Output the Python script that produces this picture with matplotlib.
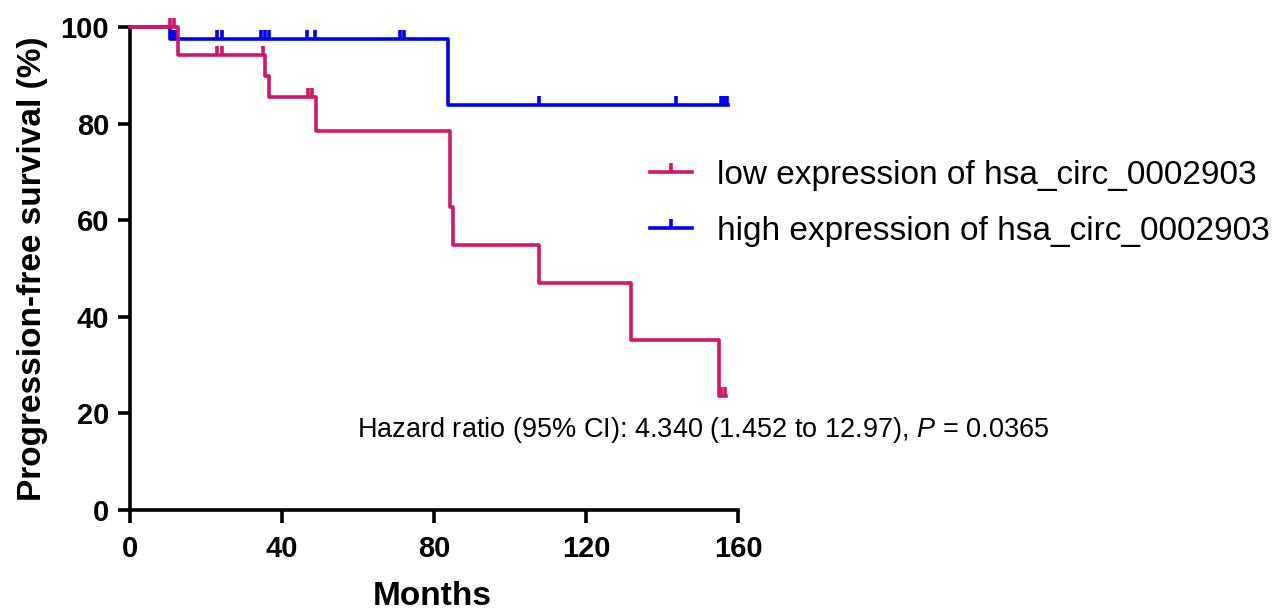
import matplotlib
matplotlib.use("Agg")
import matplotlib.pyplot as plt
from matplotlib.path import Path
from matplotlib.lines import Line2D
import numpy as np

plt.rcParams['font.family'] = ['Liberation Sans', 'DejaVu Sans']
plt.rcParams['mathtext.fontset'] = 'custom'
plt.rcParams['mathtext.rm'] = 'Liberation Sans'
plt.rcParams['mathtext.it'] = 'Liberation Sans:italic'

# step points (time, survival %)
low_t = [0, 12.6, 35.5, 36.7, 48.9, 84.2, 84.9, 107.6, 131.8, 155.0, 156.8]
low_s = [100, 94.1, 89.9, 85.5, 78.4, 62.8, 54.9, 47.1, 35.3, 23.7, 23.7]
low_cens = [10.5, 11.5, 22.9, 24.3, 34.9, 46.8, 48.0, 155.6, 156.5]

high_t = [0, 10.5, 83.7, 157.3]
high_s = [100, 97.6, 83.8, 83.8]
high_cens = [11.2, 12.0, 22.8, 24.1, 34.5, 35.5, 36.5, 46.5, 48.7,
             71.0, 72.2, 107.7, 143.7, 155.6, 156.4, 157.2]

labels = ['low expression of hsa_circ_0002903', 'high expression of hsa_circ_0002903']
colors = ['#D5156B', '#0000FF']
hr_text = 'Hazard ratio (95% CI): 4.340 (1.452 to 12.97), $\\it{P}$ = 0.0365'

tick_marker = Path([(0, 0), (0, 1)])
LW = 2.6


def level_at(t_steps, s_steps, t):
    idx = np.searchsorted(t_steps, t, side='right') - 1
    return np.array(s_steps)[idx]


fig = plt.figure(figsize=(12.84, 6.13), dpi=100)
ax = fig.add_axes([130 / 1284, 1 - 510 / 613, 608 / 1284, 483 / 613])

curves = [(high_t, high_s, high_cens, colors[1], 2),
          (low_t, low_s, low_cens, colors[0], 3)]
for t, s, cens, c, z in curves:
    ax.step(t, s, where='post', color=c, lw=LW, zorder=z, clip_on=False)
    ax.plot(cens, level_at(t, s, cens), ls='none', marker=tick_marker,
            markersize=13, markeredgewidth=LW, color=c, zorder=z, clip_on=False)

ax.set_xlim(0, 160)
ax.set_ylim(0, 100)
ax.set_xticks([0, 40, 80, 120, 160])
ax.set_yticks([0, 20, 40, 60, 80, 100])
for side in ['top', 'right']:
    ax.spines[side].set_visible(False)
for side in ['left', 'bottom']:
    ax.spines[side].set_linewidth(2.6)
ax.tick_params(length=9, width=2.6, labelsize=21)
ax.tick_params(axis='x', pad=9)
ax.tick_params(axis='y', pad=6)
for lbl in ax.get_xticklabels() + ax.get_yticklabels():
    lbl.set_fontweight('bold')

ax.set_xlabel('Months', fontsize=24, fontweight='bold')
ax.set_ylabel('Progression-free survival (%)', fontsize=24, fontweight='bold')
ax.xaxis.set_label_coords(0.497, -0.147)
ax.yaxis.set_label_coords(-0.135, 0.5)

ax.text(59.7, 16.6, hr_text, fontsize=19.5, va='center', ha='left', clip_on=False)

handles = [Line2D([], [], color=colors[0], lw=LW, marker=tick_marker,
                  markersize=13, markeredgewidth=LW),
           Line2D([], [], color=colors[1], lw=LW, marker=tick_marker,
                  markersize=13, markeredgewidth=LW)]
fig.legend(handles, labels, loc='center left', bbox_to_anchor=(650 / 1284, 1 - 203 / 613),
           frameon=False, fontsize=24, handlelength=1.25, handletextpad=0.75,
           labelspacing=0.75, borderpad=0, borderaxespad=0, numpoints=1)

fig.savefig('out.png', dpi=100)
